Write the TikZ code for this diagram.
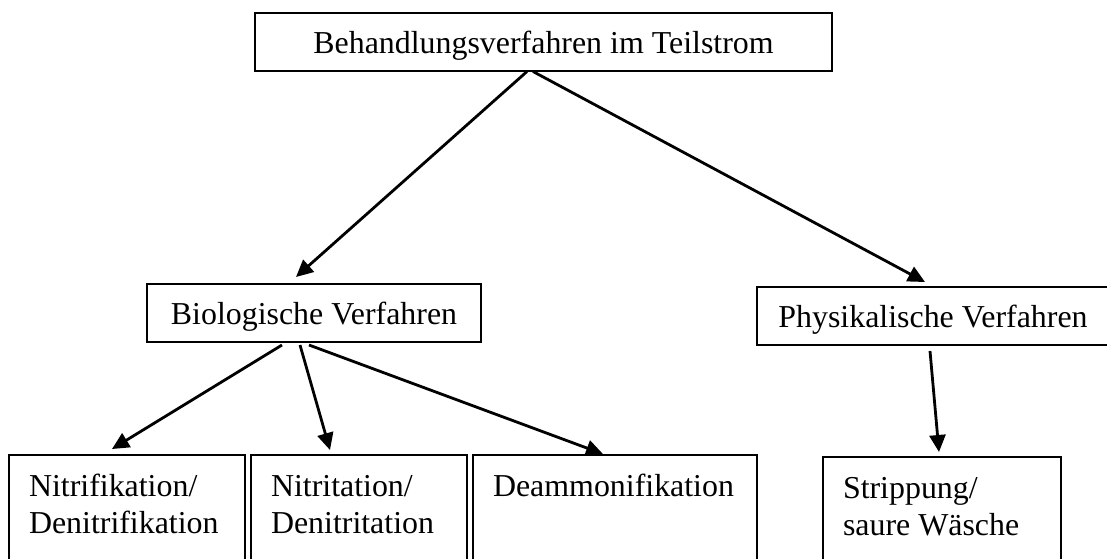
\documentclass[tikz,border=0pt]{standalone}
\usepackage{fontspec}
\setmainfont{Liberation Serif}
\usepackage{tikz}
\usetikzlibrary{positioning}
\usetikzlibrary{arrows.meta}

\newcommand{\zeilen}[2]{\parbox[t]{#1}{\raggedright #2}}

\begin{document}
\begin{tikzpicture}[x=1pt,y=1pt,-{Triangle[length=17pt,width=16pt]},line width=2.8pt,
  verfahren/.style={draw,line width=2pt,font=\fontsize{31.9pt}{37pt}\selectfont,
    inner sep=0pt,minimum height=58pt,text height=23pt,text depth=0pt},
  methode/.style={draw,line width=2pt,font=\fontsize{31.9pt}{37pt}\selectfont,
    inner xsep=20pt,inner ysep=0pt,text height=41pt,text depth=100pt}]
\useasboundingbox (0,0) rectangle (1107,-558);
\node[verfahren,minimum width=577pt] (teil) at (543.5,-41.5) {Behandlungsverfahren im Teilstrom};
\node[verfahren,minimum width=334pt] (bio)  at (314,-313)    {Biologische Verfahren};
\node[verfahren,minimum width=352pt] (phys) at (933,-316)    {Physikalische Verfahren};
\node[methode,anchor=north west] (nitri) at (8,-454) {\zeilen{196pt}{Nitrifikation/\\Denitrifikation}};
\node[methode] (nitrita) [right=4pt of nitri]   {\zeilen{176pt}{Nitritation/\\Denitritation}};
\node[methode] (deamm)   [right=4pt of nitrita] {\zeilen{244pt}{Deammonifikation}};
\node[methode,anchor=north west] (stripp) at (822,-456) {\zeilen{198pt}{Strippung/\\saure Wäsche}};
\path ([xshift=-16.5pt]teil.south)          edge ([xshift=-18pt,yshift=6pt]bio.north)
      ([xshift=-10.5pt]teil.south)          edge ([xshift=-8pt,yshift=4pt]phys.north)
      ([xshift=-32pt,yshift=-2pt]bio.south) edge ([xshift=-15pt,yshift=5pt]nitri.north)
      ([xshift=-14pt,yshift=-2pt]bio.south) edge ([xshift=-29pt,yshift=4pt]nitrita.north)
      ([xshift=-5pt,yshift=-2pt]bio.south)  edge ([xshift=-12pt,yshift=0pt]deamm.north)
      ([xshift=-3pt,yshift=-5pt]phys.south) edge ([xshift=-3pt,yshift=4pt]stripp.north);
\end{tikzpicture}
\end{document}
